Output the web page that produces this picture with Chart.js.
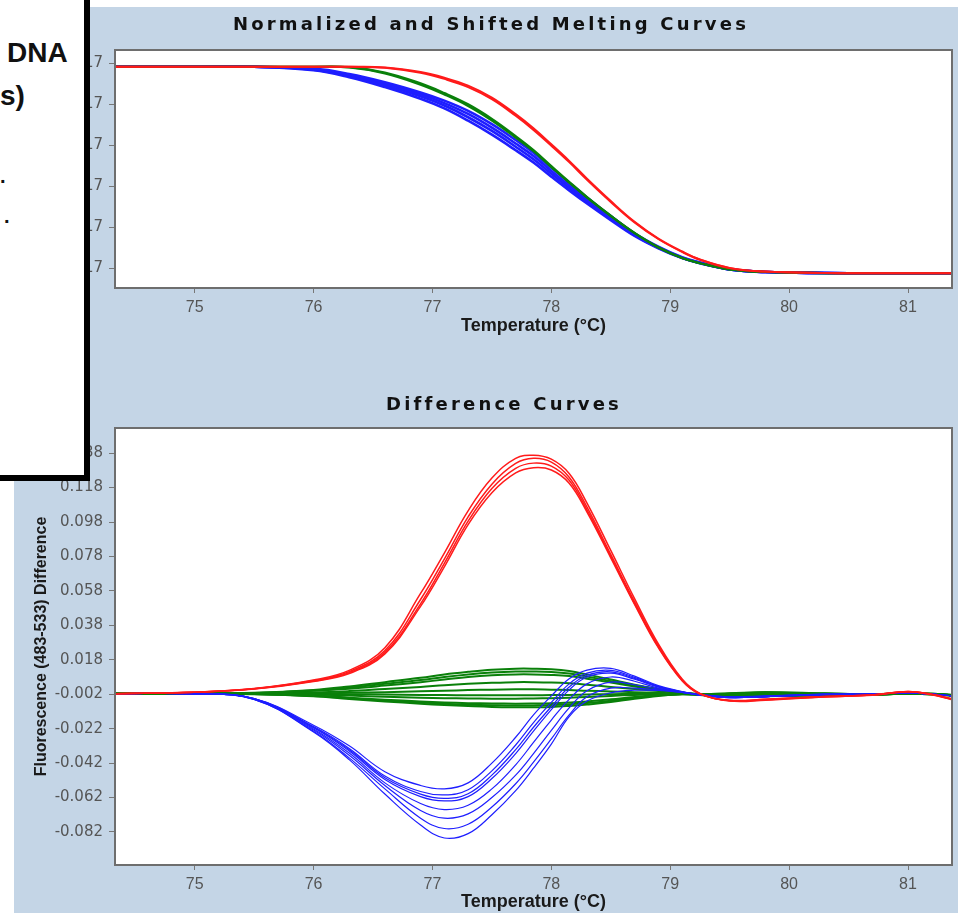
<!DOCTYPE html>
<html>
<head>
<meta charset="utf-8">
<script src="https://cdn.jsdelivr.net/npm/chart.js@4.4.1/dist/chart.umd.min.js"></script>
<style>
  html, body { margin: 0; padding: 0; background: #fff; }
  body { width: 963px; height: 913px; position: relative; overflow: hidden; }
  #panel { position: absolute; left: 14px; top: 7px; width: 944px; height: 906px; background: #c4d5e6; }
  .chart-box { position: absolute; left: 14px; width: 944px; }
  #meltBox { top: 7px; height: 345px; }
  #diffBox { top: 360px; height: 553px; }
  #note {
    position: absolute; left: 0; top: 0; width: 84px; height: 475px;
    background: #fff; border-right: 6px solid #000; border-bottom: 6px solid #000;
    z-index: 5; overflow: hidden;
    font-family: "Liberation Sans", Arial, sans-serif; font-weight: bold; color: #111;
  }
  #note span { position: absolute; white-space: nowrap; font-size: 28px; line-height: 28px; }
  #note .dot { font-size: 20px; line-height: 20px; }
</style>
</head>
<body>
<div id="panel"></div>
<div class="chart-box" id="meltBox"><canvas id="meltChart"></canvas></div>
<div class="chart-box" id="diffBox"><canvas id="diffChart"></canvas></div>
<div id="note">
  <span style="left:7px; top:39px;">DNA</span>
  <span style="left:0; top:82px;">s)</span>
  <span class="dot" style="left:0; top:166px;">.</span>
  <span class="dot" style="left:4px; top:206px;">.</span>
</div>

<script>
// temperatures (°C) shared by every curve
const temps = [74.33, 75.0, 75.5, 76.0, 76.3, 76.6, 76.9, 77.1, 77.3, 77.5, 77.7, 77.85, 78.0, 78.15,
               78.3, 78.5, 78.7, 78.9, 79.1, 79.25, 79.5, 79.8, 80.3, 80.7, 81.0, 81.2, 81.37];

const xTicks = [75, 76, 77, 78, 79, 80, 81];
const meltTicks = [0, 20, 40, 60, 80, 100];
const meltTickLabels = ['17', '17', '17', '17', '17', '17'];
const diffTicks = [-0.082, -0.062, -0.042, -0.022, -0.002, 0.018, 0.038, 0.058, 0.078, 0.098, 0.118, 0.138];

// normalized melting curves (%)
const meltRed = [
    [98.3, 98.3, 98.3, 98.3, 98.3, 98.0, 95.8, 93.0, 89.1, 83.3, 75.2, 68.3, 60.5, 52.4, 43.7, 32.8, 22.7, 14.5, 8.2, 4.3, 0.2, -1.6, -2.3, -2.4, -2.4, -2.4, -2.4],
    [98.3, 98.3, 98.3, 98.3, 98.3, 97.8, 95.4, 92.4, 88.4, 82.5, 74.4, 67.5, 59.8, 51.8, 43.2, 32.4, 22.4, 14.3, 8.0, 4.2, 0.1, -1.6, -2.3, -2.4, -2.4, -2.4, -2.4]
];
const meltGreen = [
    [98.3, 98.3, 98.3, 98.3, 98.1, 95.5, 90.2, 85.5, 80.0, 72.9, 64.5, 57.7, 49.9, 42.2, 34.8, 25.7, 17.3, 10.3, 5.0, 2.5, -0.5, -1.8, -2.3, -2.4, -2.4, -2.4, -2.4],
    [98.3, 98.3, 98.3, 98.3, 98.0, 95.1, 89.6, 84.8, 79.2, 72.1, 63.8, 57.1, 49.4, 41.8, 34.5, 25.5, 17.2, 10.2, 5.0, 2.5, -0.5, -1.8, -2.3, -2.4, -2.4, -2.4, -2.4]
];
const meltBlue = [
    [98.3, 98.3, 98.3, 97.4, 94.8, 90.8, 85.8, 81.8, 76.8, 70.3, 62.6, 56.4, 49.0, 41.8, 34.6, 25.5, 17.1, 10.6, 5.4, 2.8, -0.5, -1.8, -2.3, -2.4, -2.4, -2.4, -2.4],
    [98.3, 98.3, 98.3, 97.1, 94.3, 90.1, 84.9, 80.6, 75.3, 68.6, 60.9, 54.8, 47.5, 40.4, 33.5, 24.7, 16.6, 10.3, 5.2, 2.7, -0.5, -1.8, -2.3, -2.4, -2.4, -2.4, -2.4],
    [98.3, 98.3, 98.3, 96.9, 93.8, 89.3, 83.9, 79.4, 73.7, 67.0, 59.3, 53.2, 46.1, 39.2, 32.5, 24.1, 16.2, 10.0, 5.1, 2.6, -0.5, -1.8, -2.3, -2.4, -2.4, -2.4, -2.4],
    [98.3, 98.3, 98.3, 96.6, 93.2, 88.4, 82.7, 78.0, 72.0, 65.2, 57.6, 51.6, 44.7, 38.0, 31.6, 23.5, 15.8, 9.8, 5.0, 2.5, -0.5, -1.8, -2.3, -2.4, -2.4, -2.4, -2.4]
];

// difference curves
const diffRed = [
    [-0.0017, -0.0008, 0.0013, 0.0062, 0.0118, 0.0250, 0.0565, 0.0800, 0.1045, 0.1235, 0.1350, 0.1368, 0.1345, 0.1262, 0.1090, 0.0815, 0.0535, 0.0272, 0.0068, -0.0015, -0.0060, -0.0055, -0.0036, -0.0026, -0.0005, -0.0024, -0.0052],
    [-0.0017, -0.0008, 0.0012, 0.0059, 0.0111, 0.0233, 0.0530, 0.0765, 0.1010, 0.1200, 0.1320, 0.1350, 0.1328, 0.1240, 0.1066, 0.0792, 0.0518, 0.0262, 0.0064, -0.0017, -0.0058, -0.0052, -0.0035, -0.0025, -0.0005, -0.0022, -0.0050],
    [-0.0017, -0.0009, 0.0011, 0.0056, 0.0105, 0.0222, 0.0505, 0.0740, 0.0985, 0.1175, 0.1292, 0.1322, 0.1305, 0.1222, 0.1050, 0.0780, 0.0508, 0.0255, 0.0060, -0.0018, -0.0056, -0.0050, -0.0034, -0.0024, -0.0006, -0.0021, -0.0048],
    [-0.0017, -0.0009, 0.0010, 0.0054, 0.0100, 0.0214, 0.0490, 0.0720, 0.0965, 0.1150, 0.1265, 0.1295, 0.1282, 0.1205, 0.1038, 0.0772, 0.0502, 0.0250, 0.0058, -0.0019, -0.0055, -0.0049, -0.0033, -0.0024, -0.0006, -0.0020, -0.0046]
];
const diffBlue = [
    [-0.0017, -0.0018, -0.0045, -0.0200, -0.0320, -0.0470, -0.0550, -0.0570, -0.0535, -0.0420, -0.0270, -0.0140, -0.0030, 0.0070, 0.0120, 0.0130, 0.0085, 0.0030, -0.0005, -0.0025, -0.0040, -0.0035, -0.0022, -0.0020, -0.0012, -0.0020, -0.0030],
    [-0.0017, -0.0018, -0.0046, -0.0208, -0.0335, -0.0495, -0.0585, -0.0605, -0.0575, -0.0465, -0.0315, -0.0185, -0.0068, 0.0040, 0.0102, 0.0118, 0.0078, 0.0026, -0.0007, -0.0025, -0.0040, -0.0035, -0.0022, -0.0020, -0.0012, -0.0020, -0.0030],
    [-0.0017, -0.0018, -0.0046, -0.0212, -0.0342, -0.0505, -0.0600, -0.0625, -0.0598, -0.0490, -0.0342, -0.0212, -0.0092, 0.0022, 0.0090, 0.0110, 0.0072, 0.0024, -0.0007, -0.0025, -0.0040, -0.0035, -0.0022, -0.0020, -0.0012, -0.0020, -0.0030],
    [-0.0017, -0.0018, -0.0047, -0.0215, -0.0350, -0.0515, -0.0615, -0.0640, -0.0615, -0.0510, -0.0365, -0.0235, -0.0110, 0.0005, 0.0080, 0.0102, 0.0067, 0.0021, -0.0008, -0.0025, -0.0039, -0.0034, -0.0022, -0.0020, -0.0012, -0.0020, -0.0030],
    [-0.0017, -0.0018, -0.0048, -0.0222, -0.0362, -0.0535, -0.0655, -0.0690, -0.0665, -0.0570, -0.0430, -0.0300, -0.0170, -0.0050, 0.0040, 0.0080, 0.0055, 0.0015, -0.0008, -0.0024, -0.0038, -0.0033, -0.0021, -0.0020, -0.0012, -0.0020, -0.0030],
    [-0.0017, -0.0018, -0.0049, -0.0228, -0.0375, -0.0550, -0.0695, -0.0740, -0.0715, -0.0620, -0.0490, -0.0365, -0.0230, -0.0100, 0.0000, 0.0050, 0.0035, 0.0010, -0.0009, -0.0023, -0.0037, -0.0032, -0.0021, -0.0020, -0.0012, -0.0020, -0.0030],
    [-0.0017, -0.0018, -0.0050, -0.0235, -0.0390, -0.0570, -0.0740, -0.0800, -0.0775, -0.0675, -0.0540, -0.0415, -0.0280, -0.0140, -0.0035, 0.0015, 0.0015, 0.0005, -0.0009, -0.0022, -0.0036, -0.0031, -0.0020, -0.0020, -0.0012, -0.0020, -0.0030],
    [-0.0017, -0.0018, -0.0050, -0.0240, -0.0400, -0.0600, -0.0780, -0.0855, -0.0830, -0.0720, -0.0580, -0.0450, -0.0310, -0.0150, -0.0060, -0.0012, 0.0003, 0.0002, -0.0010, -0.0022, -0.0035, -0.0030, -0.0020, -0.0020, -0.0012, -0.0020, -0.0030]
];
const diffGreen = [
    [-0.0017, -0.0017, -0.0012, 0.0005, 0.0025, 0.0050, 0.0075, 0.0095, 0.0110, 0.0122, 0.0128, 0.0128, 0.0125, 0.0115, 0.0095, 0.0065, 0.0035, 0.0010, -0.0010, -0.0020, -0.0015, -0.0008, -0.0015, -0.0020, -0.0015, -0.0018, -0.0025],
    [-0.0017, -0.0017, -0.0013, 0.0002, 0.0018, 0.0040, 0.0062, 0.0080, 0.0095, 0.0106, 0.0112, 0.0112, 0.0109, 0.0100, 0.0082, 0.0056, 0.0030, 0.0008, -0.0011, -0.0020, -0.0016, -0.0009, -0.0016, -0.0020, -0.0015, -0.0018, -0.0025],
    [-0.0017, -0.0017, -0.0014, 0.0000, 0.0012, 0.0030, 0.0050, 0.0065, 0.0080, 0.0090, 0.0095, 0.0095, 0.0092, 0.0085, 0.0070, 0.0048, 0.0025, 0.0005, -0.0012, -0.0020, -0.0018, -0.0010, -0.0018, -0.0020, -0.0016, -0.0018, -0.0025],
    [-0.0017, -0.0017, -0.0015, -0.0010, -0.0002, 0.0010, 0.0022, 0.0032, 0.0040, 0.0046, 0.0050, 0.0050, 0.0048, 0.0043, 0.0035, 0.0022, 0.0010, -0.0002, -0.0014, -0.0021, -0.0022, -0.0015, -0.0020, -0.0021, -0.0017, -0.0019, -0.0026],
    [-0.0017, -0.0017, -0.0016, -0.0015, -0.0012, -0.0008, -0.0003, 0.0000, 0.0004, 0.0006, 0.0008, 0.0008, 0.0006, 0.0004, 0.0000, -0.0004, -0.0008, -0.0012, -0.0017, -0.0021, -0.0026, -0.0022, -0.0022, -0.0021, -0.0017, -0.0019, -0.0027],
    [-0.0017, -0.0017, -0.0017, -0.0019, -0.0020, -0.0022, -0.0024, -0.0025, -0.0026, -0.0026, -0.0026, -0.0026, -0.0025, -0.0024, -0.0022, -0.0020, -0.0019, -0.0018, -0.0018, -0.0021, -0.0028, -0.0026, -0.0023, -0.0021, -0.0017, -0.0019, -0.0027],
    [-0.0017, -0.0017, -0.0018, -0.0022, -0.0028, -0.0035, -0.0040, -0.0043, -0.0045, -0.0046, -0.0046, -0.0045, -0.0043, -0.0040, -0.0036, -0.0030, -0.0024, -0.0020, -0.0018, -0.0022, -0.0030, -0.0028, -0.0024, -0.0022, -0.0018, -0.0020, -0.0028],
    [-0.0017, -0.0017, -0.0019, -0.0028, -0.0040, -0.0052, -0.0062, -0.0068, -0.0072, -0.0074, -0.0075, -0.0074, -0.0072, -0.0068, -0.0062, -0.0050, -0.0036, -0.0025, -0.0019, -0.0023, -0.0033, -0.0030, -0.0025, -0.0022, -0.0018, -0.0020, -0.0028],
    [-0.0017, -0.0017, -0.0019, -0.0030, -0.0044, -0.0057, -0.0068, -0.0076, -0.0081, -0.0084, -0.0086, -0.0085, -0.0083, -0.0078, -0.0071, -0.0058, -0.0041, -0.0028, -0.0020, -0.0023, -0.0034, -0.0031, -0.0025, -0.0022, -0.0018, -0.0020, -0.0028],
    [-0.0017, -0.0017, -0.0020, -0.0032, -0.0048, -0.0062, -0.0075, -0.0083, -0.0089, -0.0094, -0.0096, -0.0096, -0.0094, -0.0088, -0.0080, -0.0066, -0.0046, -0.0030, -0.0020, -0.0024, -0.0036, -0.0032, -0.0026, -0.0022, -0.0018, -0.0020, -0.0029]
];

const RED = '#ff1a1a';
const GREEN = '#0a800a';
const BLUE = '#1e1eff';

document.addEventListener('DOMContentLoaded', function() {

    Chart.defaults.font.family = 'DejaVu Sans';
    Chart.defaults.animation = false;

    // white plot area with a grey frame
    const plotFrame = {
        id: 'plotFrame',
        beforeDraw(chart) {
            const { ctx, chartArea: a } = chart;
            ctx.save();
            ctx.fillStyle = '#ffffff';
            ctx.fillRect(a.left, a.top, a.width, a.height);
            ctx.restore();
        },
        afterDatasetsDraw(chart) {
            const { ctx, chartArea: a } = chart;
            ctx.save();
            ctx.strokeStyle = '#6e6e6e';
            ctx.lineWidth = 2;
            ctx.strokeRect(a.left, a.top, a.width, a.height);
            ctx.restore();
        }
    };

    // wide letter spacing for the chart titles
    const spacedTitle = {
        id: 'spacedTitle',
        beforeDraw(chart, args, opts) {
            const block = chart.titleBlock;
            if (!block || block._spaced) return;
            const draw = block.draw.bind(block);
            block.draw = function(area) {
                const ctx = chart.ctx;
                ctx.save();
                ctx.letterSpacing = opts.spacing + 'px';
                ctx.translate(opts.shift, 0);
                draw(area);
                ctx.restore();
            };
            block._spaced = true;
        }
    };

    const lines = (groups, color, width) => groups.map(values => ({
        data: values.map((v, i) => ({ x: temps[i], y: v })),
        borderColor: color,
        borderWidth: width,
        pointRadius: 0,
        tension: 0.4,
        fill: false
    }));

    const xAxis = (height, titlePad) => ({
        type: 'linear',
        min: 74.33,
        max: 81.37,
        afterBuildTicks: s => { s.ticks = xTicks.map(v => ({ value: v })); },
        afterFit: s => { s.height = height; },
        border: { display: false },
        grid: { display: true, drawOnChartArea: false, drawTicks: true, tickLength: 5, color: '#777' },
        ticks: {
            padding: 5,
            color: '#555',
            font: { family: 'Liberation Sans', size: 16 },
            callback: v => String(v)
        },
        title: {
            display: true,
            text: 'Temperature (°C)',
            color: '#1a1a1a',
            font: { family: 'Liberation Sans', size: 18, weight: 'bold' },
            padding: { top: 0, bottom: titlePad }
        }
    });

    const titleOpts = (text, top, bottom) => ({
        display: true,
        text: text,
        color: '#111',
        font: { family: 'DejaVu Sans', size: 18, weight: 'bold' },
        padding: { top: top, bottom: bottom }
    });

    new Chart(document.getElementById('meltChart'), {
        type: 'line',
        data: {
            datasets: [
                ...lines(meltRed, RED, 2),
                ...lines(meltGreen, GREEN, 2.2),
                ...lines(meltBlue, BLUE, 2.6)
            ]
        },
        options: {
            responsive: true,
            maintainAspectRatio: false,
            events: [],
            layout: { padding: { left: 0, right: 6, top: 0, bottom: 10 } },
            plugins: {
                legend: { display: false },
                tooltip: { enabled: false },
                title: titleOpts('Normalized and Shifted Melting Curves', 7.7, 13.7),
                spacedTitle: { spacing: 3.2, shift: 8 }
            },
            scales: {
                x: xAxis(54, 5.2),
                y: {
                    min: -9.6,
                    max: 106.5,
                    afterBuildTicks: s => { s.ticks = meltTicks.map(v => ({ value: v })); },
                    afterFit: s => { s.width = 101; },
                    border: { display: false },
                    grid: { display: true, drawOnChartArea: false, drawTicks: true, tickLength: 6, color: '#777' },
                    ticks: {
                        padding: 6,
                        color: '#555',
                        font: { size: 15 },
                        callback: (v, i) => meltTickLabels[i]
                    }
                }
            }
        },
        plugins: [plotFrame, spacedTitle]
    });

    new Chart(document.getElementById('diffChart'), {
        type: 'line',
        data: {
            datasets: [
                ...lines(diffRed, RED, 1.5),
                ...lines(diffBlue, BLUE, 1.2),
                ...lines(diffGreen, GREEN, 2)
            ]
        },
        options: {
            responsive: true,
            maintainAspectRatio: false,
            events: [],
            layout: { padding: { left: 0, right: 6, top: 0, bottom: 0 } },
            plugins: {
                legend: { display: false },
                tooltip: { enabled: false },
                title: titleOpts('Difference Curves', 34.2, 12.2),
                spacedTitle: { spacing: 3.2, shift: 21 }
            },
            scales: {
                x: xAxis(48, 0.2),
                y: {
                    min: -0.1012,
                    max: 0.1526,
                    afterBuildTicks: s => { s.ticks = diffTicks.map(v => ({ value: v })); },
                    afterFit: s => { s.width = 101; },
                    border: { display: false },
                    grid: { display: true, drawOnChartArea: false, drawTicks: true, tickLength: 6, color: '#777' },
                    ticks: {
                        padding: 6,
                        color: '#555',
                        font: { size: 15 },
                        callback: v => v.toFixed(3)
                    },
                    title: {
                        display: true,
                        text: 'Fluorescence (483-533) Difference',
                        color: '#1a1a1a',
                        font: { family: 'Liberation Sans', size: 16, weight: 'bold' },
                        padding: { top: 18.4, bottom: 0 }
                    }
                }
            }
        },
        plugins: [plotFrame, spacedTitle]
    });
});
</script>
</body>
</html>
